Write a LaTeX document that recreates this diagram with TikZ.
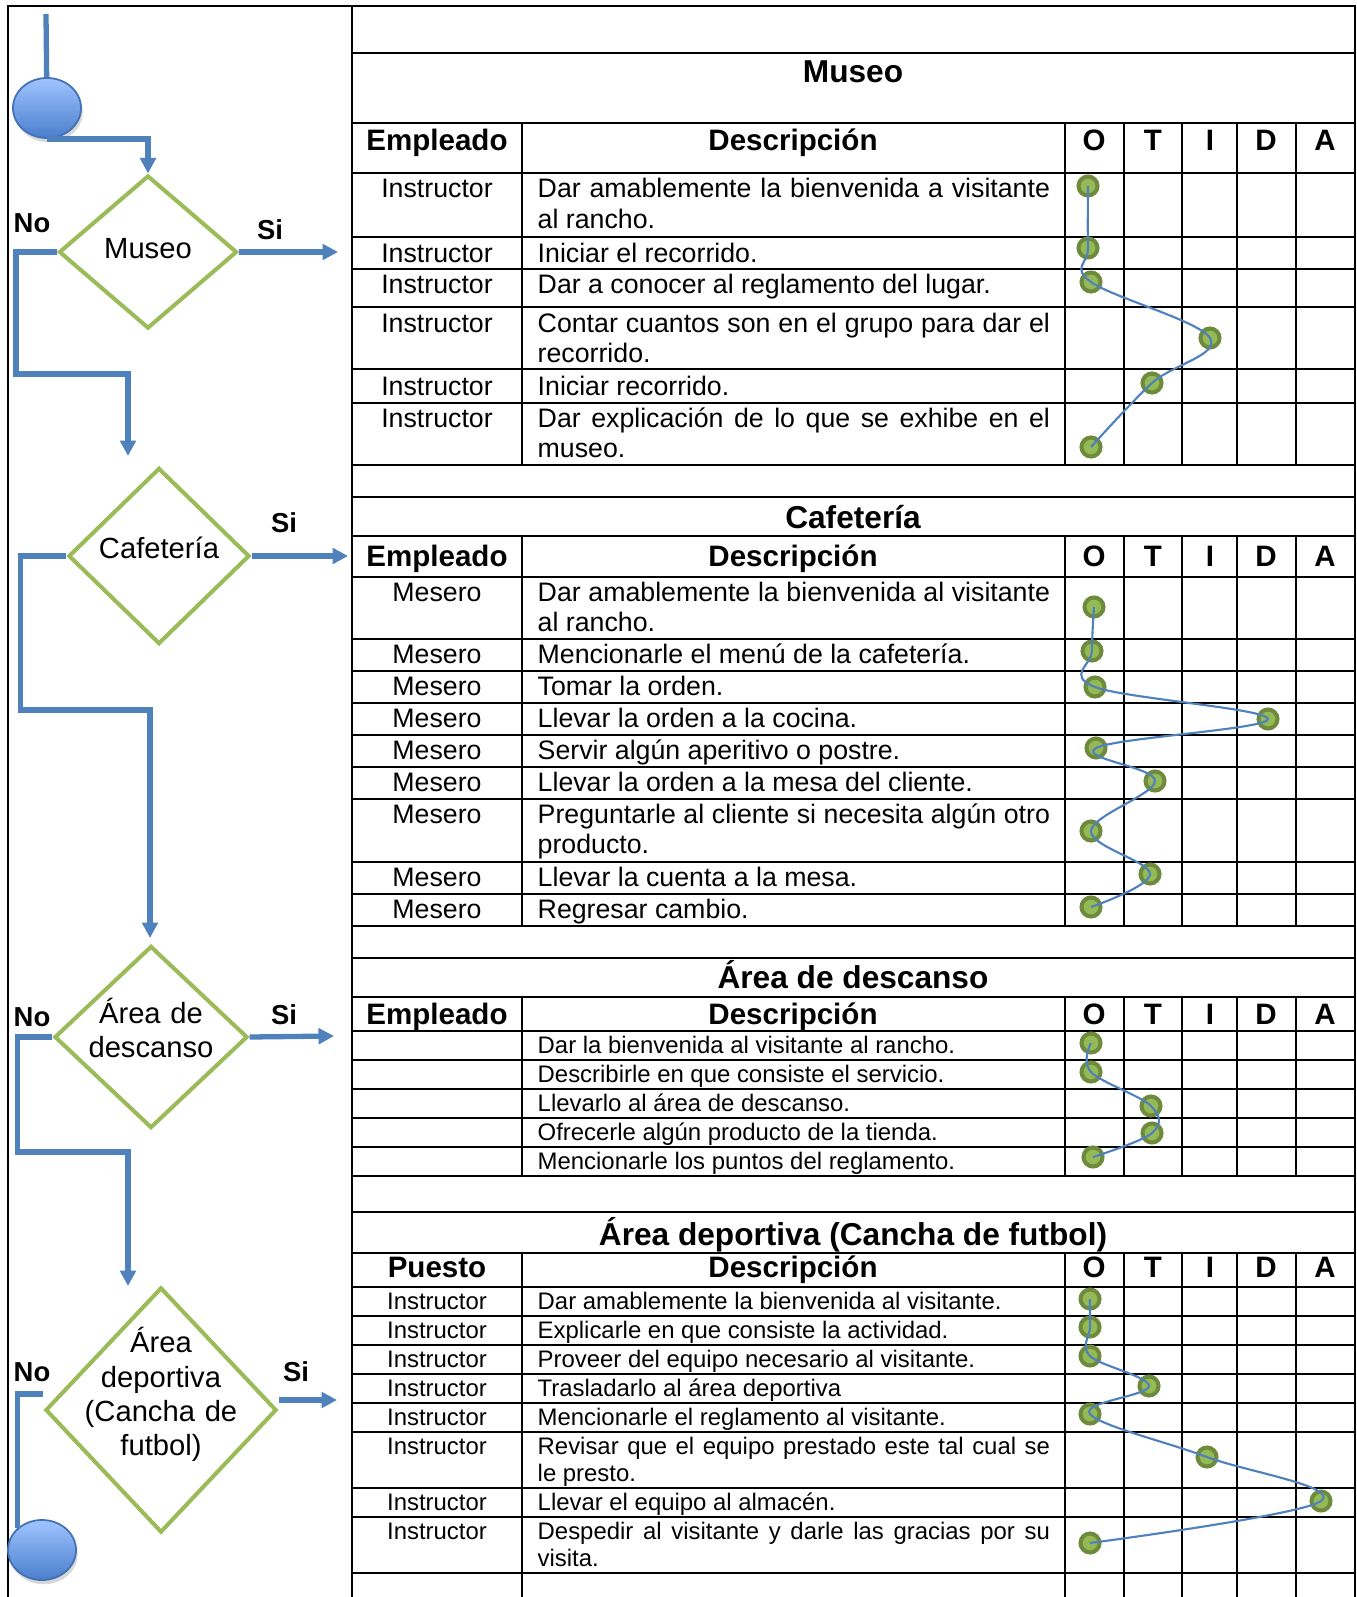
\documentclass[tikz,border=0pt]{standalone}
\usepackage{fontspec}
\setmainfont{Liberation Sans}
\usepackage{tikz}
\usetikzlibrary{shapes.geometric,arrows.meta,shadows}

\definecolor{flowblue}{HTML}{4F81BD}
\definecolor{decgreen}{HTML}{9BBB59}
\definecolor{dotfill}{HTML}{94B955}
\definecolor{dotrim}{HTML}{6E8B3D}
\definecolor{termtop}{HTML}{A0C4FF}
\definecolor{termbot}{HTML}{4A7FCC}
\definecolor{termline}{HTML}{4072B5}

\hyphenpenalty=10000
\exhyphenpenalty=10000

\begin{document}
\begin{tikzpicture}[
  x=0.01cm, y=-0.01cm,
  every node/.style={inner sep=0pt},
  grid/.style={line width=0.75pt},
  ttl/.style={anchor=base, font=\fontsize{9}{11}\selectfont\bfseries},
  hdr/.style={anchor=base, font=\fontsize{8.4}{10}\selectfont\bfseries},
  emp/.style={anchor=base, font=\fontsize{7.6}{8.7}\selectfont},
  desc/.style={anchor=base west, text width=5.12cm, align=justify, font=\fontsize{7.6}{8.7}\selectfont},
  emps/.style={emp, font=\fontsize{6.8}{7.8}\selectfont},
  descs/.style={desc, font=\fontsize{6.8}{7.8}\selectfont},
  dot/.style={circle, draw=dotrim, fill=dotfill, line width=1.15pt, minimum size=0.19cm},
  trace/.style={draw=flowblue, line width=0.6pt},
  dec/.style={diamond, draw=decgreen, line width=1.15pt, inner sep=-0.3cm, align=center, text height=0.2cm, font=\fontsize{8.3}{9.7}\selectfont},
  term/.style={ellipse, draw=termline, line width=0.5pt, top color=termtop, bottom color=termbot,
    minimum width=0.68cm, minimum height=0.6cm, drop shadow={opacity=0.3, shadow xshift=0.5pt, shadow yshift=-1.2pt}},
  flow/.style={draw=flowblue, line width=1.5pt},
  arr/.style={flow, -{Triangle[length=4.4pt, width=4.4pt]}},
  lab/.style={font=\fontsize{7.8}{9}\selectfont\bfseries}
]
\useasboundingbox (0,0) rectangle (1356,1597);
\fill[white] (0,0) rectangle (1356,1597);

% marco y tabla
\draw[grid] (8,1597) -- (8,6) -- (1355,6) -- (1355,1597);
\draw[grid] (352,6) -- (352,1597);
\foreach \yy in {53,123,173,237,269,307,369,403,465,497,536,577,639,671,703,735,767,799,862,894,926,
  958,997,1031,1060,1089,1118,1147,1176,1212,1253,1287,1316,1345,1374,1403,1432,1488,1517,1573}
  \draw[grid] (352,\yy) -- (1355,\yy);
\foreach \x in {522,1065,1124,1182,1237,1296}{
  \draw[grid] (\x,123) -- (\x,465);
  \draw[grid] (\x,536) -- (\x,926);
  \draw[grid] (\x,997) -- (\x,1176);
  \draw[grid] (\x,1253) -- (\x,1597);
}

% Museo
\node[ttl] (mu-t) at (853,83) {Museo};
\node[hdr] (mu-h1) at (437,151) {Empleado};
\node[hdr] (mu-h2) at (793,151) {Descripción};
\foreach \col/\x in {O/1094,T/1153,I/1210,D/1266,A/1325}
  \node[hdr] (mu-\col) at (\x,151) {\col};
\foreach \yy/\dd [count=\i] in {
  198/{Dar amablemente la bienvenida a visitante\linebreak al rancho.},
  262/{Iniciar el recorrido.},
  294/{Dar a conocer al reglamento del lugar.},
  332/{Contar cuantos son en el grupo para dar el\linebreak recorrido.},
  395/{Iniciar recorrido.},
  427/{Dar explicación de lo que se exhibe en el\linebreak museo.}}{
  \node[emp] (mu-e\i) at (437,\yy) {Instructor};
  \node[desc] (mu-d\i) at (537,\yy) {\dd};
}
\foreach \x/\y [count=\i] in {1088/186,1088/248,1091/282,1210/338,1152/383,1091/447}
  \node[dot] (mu-p\i) at (\x,\y) {};
\draw[trace] plot[smooth, tension=0.6] coordinates {(mu-p1) (mu-p2) (mu-p3) (mu-p4) (mu-p5) (mu-p6)};

% Cafeteria
\node[ttl] (ca-t) at (853,528) {Cafetería};
\node[hdr] (ca-h1) at (437,566) {Empleado};
\node[hdr] (ca-h2) at (793,566) {Descripción};
\foreach \col/\x in {O/1094,T/1153,I/1210,D/1266,A/1325}
  \node[hdr] (ca-\col) at (\x,566) {\col};
\foreach \yy/\dd [count=\i] in {
  601/{Dar amablemente la bienvenida al visitante\linebreak al rancho.},
  663/{Mencionarle el menú de la cafetería.},
  695/{Tomar la orden.},
  727/{Llevar la orden a la cocina.},
  759/{Servir algún aperitivo o postre.},
  791/{Llevar la orden a la mesa del cliente.},
  823/{Preguntarle al cliente si necesita algún otro\linebreak producto.},
  886/{Llevar la cuenta a la mesa.},
  918/{Regresar cambio.}}{
  \node[emp] (ca-e\i) at (437,\yy) {Mesero};
  \node[desc] (ca-d\i) at (537,\yy) {\dd};
}
\foreach \x/\y [count=\i] in {1094/607,1092/651,1095/687,1268/719,1096/748,1155/781,1091/831,1150/874,1091/907}
  \node[dot] (ca-p\i) at (\x,\y) {};
\draw[trace] plot[smooth, tension=0.6] coordinates {(ca-p1) (ca-p2) (ca-p3) (ca-p4) (ca-p5) (ca-p6) (ca-p7) (ca-p8) (ca-p9)};

% Area de descanso
\node[ttl] (de-t) at (853,988) {Área de descanso};
\node[hdr] (de-h1) at (437,1024) {Empleado};
\node[hdr] (de-h2) at (793,1024) {Descripción};
\foreach \col/\x in {O/1094,T/1153,I/1210,D/1266,A/1325}
  \node[hdr] (de-\col) at (\x,1024) {\col};
\foreach \yy/\dd [count=\i] in {
  1053/{Dar la bienvenida al visitante al rancho.},
  1082/{Describirle en que consiste el servicio.},
  1111/{Llevarlo al área de descanso.},
  1140/{Ofrecerle algún producto de la tienda.},
  1169/{Mencionarle los puntos del reglamento.}}
  \node[descs] (de-d\i) at (537,\yy) {\dd};
\foreach \x/\y [count=\i] in {1091/1043,1091/1072,1151/1106,1152/1133,1093/1157}
  \node[dot] (de-p\i) at (\x,\y) {};
\draw[trace] plot[smooth, tension=0.6] coordinates {(de-p1) (de-p2) (de-p3) (de-p4) (de-p5)};

% Area deportiva
\node[ttl] (dp-t) at (853,1245) {Área deportiva (Cancha de futbol)};
\node[hdr] (dp-h1) at (437,1277) {Puesto};
\node[hdr] (dp-h2) at (793,1277) {Descripción};
\foreach \col/\x in {O/1094,T/1153,I/1210,D/1266,A/1325}
  \node[hdr] (dp-\col) at (\x,1277) {\col};
\foreach \yy/\dd [count=\i] in {
  1309/{Dar amablemente la bienvenida al visitante.},
  1338/{Explicarle en que consiste la actividad.},
  1367/{Proveer del equipo necesario al visitante.},
  1396/{Trasladarlo al área deportiva},
  1425/{Mencionarle el reglamento al visitante.},
  1454/{Revisar que el equipo prestado este tal cual se\linebreak le presto.},
  1510/{Llevar el equipo al almacén.},
  1539/{Despedir al visitante y darle las gracias por su\linebreak visita.}}{
  \node[emps] (dp-e\i) at (437,\yy) {Instructor};
  \node[descs] (dp-d\i) at (537,\yy) {\dd};
}
\foreach \x/\y [count=\i] in {1090/1299,1090/1327,1090/1356,1149/1386,1090/1414,1207/1457,1321/1501,1090/1543}
  \node[dot] (dp-p\i) at (\x,\y) {};
\draw[trace] plot[smooth, tension=0.6] coordinates {(dp-p1) (dp-p2) (dp-p3) (dp-p4) (dp-p5) (dp-p6) (dp-p7) (dp-p8)};

% diagrama de flujo
\node[term] (start) at (47,108) {};
\node[term] (end) at (42,1550) {};
\node[dec, minimum width=1.78cm, minimum height=1.53cm, text depth=0.07cm] (museo) at (148,252) {Museo};
\node[dec, minimum width=1.81cm, minimum height=1.76cm, text depth=0.15cm] (caf) at (159,556) {Cafetería};
\node[dec, minimum width=1.93cm, minimum height=1.82cm, text width=1.8cm, text depth=0.47cm] (desc) at (151,1037) {Área de\\descanso};
\node[dec, minimum width=2.31cm, minimum height=2.45cm, text width=1.6cm, text depth=1.34cm] (dep) at (161,1410) {Área\\deportiva\\(Cancha de\\futbol)};

\coordinate (in) at (46,14);
\coordinate (siM) at (338,252);
\coordinate (noM) at (128,456);
\coordinate (siC) at (348,556);
\coordinate (noC) at (150,938);
\coordinate (siD) at (334,1036);
\coordinate (noD) at (128,1286);
\coordinate (siP) at (337,1400);

\draw[flow] (in) -- (start);
\draw[arr] (start.south) -| (museo.north);
\draw[arr] (museo.east) -- (siM);
\draw[arr] (museo.west) -| ++(-41,122) -| (noM);
\draw[arr] (caf.east) -- (siC);
\draw[arr] (caf.west) -| ++(-46,154) -| (noC);
\draw[arr] (desc.east) -- (siD);
\draw[arr] (desc.west) -| ++(-35,115) -| (noD);
\draw[arr] (dep.east) ++(0,-10) -- (siP);
\draw[flow] (dep.west) ++(0,-16) -| (end.north west);

\node[lab] (noM-l) at (32,223) {No};
\node[lab] (siM-l) at (270,230) {Si};
\node[lab] (siC-l) at (284,523) {Si};
\node[lab] (noD-l) at (32,1017) {No};
\node[lab] (siD-l) at (284,1015) {Si};
\node[lab] (noP-l) at (32,1372) {No};
\node[lab] (siP-l) at (296,1372) {Si};
\end{tikzpicture}
\end{document}
